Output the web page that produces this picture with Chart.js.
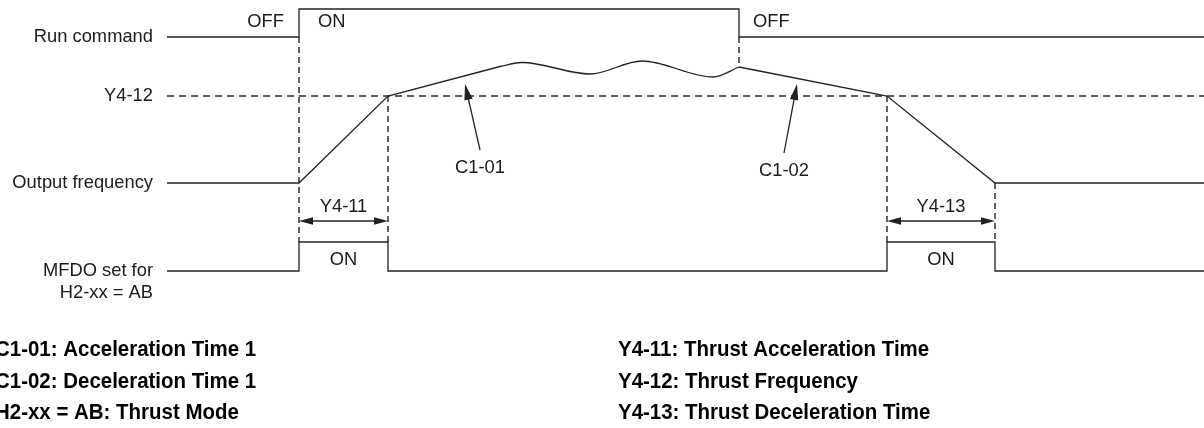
<!DOCTYPE html>
<html lang="en">
<head>
<meta charset="UTF-8">
<title>Thrust Mode Timing</title>
<script src="https://cdn.jsdelivr.net/npm/chart.js"></script>
<style>
  html, body { margin: 0; padding: 0; background: #fff; }
  #wrap { width: 1204px; height: 428px; }
</style>
</head>
<body>
<div id="wrap"><canvas id="timing" width="1204" height="428"></canvas></div>
<script>
// signal traces: time along x, level along y (y axis runs downward)
const runTime   = [167, 299, 299, 739, 739, 1204];
const runLevel  = [37, 37, 9, 9, 37, 37];

const accelTime  = [167, 299, 388, 500];
const accelLevel = [183, 183, 96, 66.5];
// frequency ripple while running: turning points only
const waveTime   = [500, 522, 590, 642, 713, 739];
const waveLevel  = [66.5, 62.5, 74, 61, 77, 67];
const decelTime  = [739, 887, 995, 1204];
const decelLevel = [67, 96, 183, 183];

const mfdoTime  = [167, 299, 299, 388, 388, 887, 887, 995, 995, 1204];
const mfdoLevel = [271, 271, 242, 242, 271, 271, 242, 242, 271, 271];

// Y4-12 reference level and the dashed time guides
const thrustLevel = 96;
const guideTime = [299, 388, 739, 887, 995];
const guideFrom = [37, 96, 37, 96, 183];
const guideTo   = [242, 242, 67, 242, 242];

// dimension arrows for the thrust times
const spanLabels = ['Y4-11', 'Y4-13'];
const spanStart  = [299, 887];
const spanEnd    = [388, 995];

// leader arrows for the ramp parameters
const leaderLabels = ['C1-01', 'C1-02'];
const leaderTail   = [[480, 150], [784, 153]];
const leaderTip    = [[465, 84], [797, 84]];

const signalNames = ['Run command', 'Y4-12', 'Output frequency', 'MFDO set for', 'H2-xx = AB'];
const notesLeft  = ['C1-01: Acceleration Time 1', 'C1-02: Deceleration Time 1', 'H2-xx = AB: Thrust Mode'];
const notesRight = ['Y4-11: Thrust Acceleration Time', 'Y4-12: Thrust Frequency', 'Y4-13: Thrust Deceleration Time'];

const ink = '#222';

function pts(xs, ys) {
  return xs.map((x, i) => ({ x: x, y: ys[i] }));
}

// vertical guides as one dataset broken by gaps
const guidePts = [];
guideTime.forEach((t, i) => {
  guidePts.push({ x: t, y: guideFrom[i] }, { x: t, y: guideTo[i] }, { x: t, y: null });
});

function trace(data, extra) {
  return Object.assign({
    data: data, showLine: true, borderColor: ink, borderWidth: 1.3,
    pointRadius: 0, tension: 0, clip: false, spanGaps: false
  }, extra || {});
}

function text(ctx, s, x, y, opts) {
  ctx.save();
  ctx.font = opts.font;
  ctx.fillStyle = opts.color || '#1a1a1a';
  ctx.textAlign = opts.align || 'left';
  ctx.textBaseline = 'middle';
  ctx.translate(x, y);
  ctx.scale(opts.sx || 1, 1);
  ctx.fillText(s, 0, 0);
  ctx.restore();
}

function arrowHead(ctx, x0, y0, x1, y1, len, half) {
  const a = Math.atan2(y1 - y0, x1 - x0);
  ctx.beginPath();
  ctx.moveTo(x1, y1);
  ctx.lineTo(x1 - len * Math.cos(a) + half * Math.sin(a), y1 - len * Math.sin(a) - half * Math.cos(a));
  ctx.lineTo(x1 - len * Math.cos(a) - half * Math.sin(a), y1 - len * Math.sin(a) + half * Math.cos(a));
  ctx.closePath();
  ctx.fill();
}

const annotations = {
  id: 'annotations',
  afterDatasetsDraw(chart) {
    const ctx = chart.ctx;
    const X = v => chart.scales.x.getPixelForValue(v);
    const Y = v => chart.scales.y.getPixelForValue(v);
    const reg = { font: '19px "Liberation Sans", Arial, sans-serif', sx: 0.965 };
    const bold = { font: 'bold 22px "Liberation Sans", Arial, sans-serif', sx: 0.93, color: '#000' };

    // signal names on the left
    const nameLevels = [runLevel[0], thrustLevel, accelLevel[0], mfdoLevel[0], mfdoLevel[0] + 22];
    signalNames.forEach((s, i) => text(ctx, s, X(153), Y(nameLevels[i]), Object.assign({ align: 'right' }, reg)));

    // run command states
    text(ctx, 'OFF', X(284), Y(22), Object.assign({ align: 'right' }, reg));
    text(ctx, 'ON', X(318), Y(22), reg);
    text(ctx, 'OFF', X(753), Y(22), reg);

    // thrust time spans
    ctx.save();
    ctx.strokeStyle = ink;
    ctx.fillStyle = ink;
    ctx.lineWidth = 1.3;
    spanLabels.forEach((s, i) => {
      const x0 = X(spanStart[i]), x1 = X(spanEnd[i]), y = Y(221);
      ctx.beginPath();
      ctx.moveTo(x0 + 6, y);
      ctx.lineTo(x1 - 6, y);
      ctx.stroke();
      arrowHead(ctx, x1, y, x0, y, 14, 3.8);
      arrowHead(ctx, x0, y, x1, y, 14, 3.8);
      const mid = (spanStart[i] + spanEnd[i]) / 2;
      text(ctx, s, X(mid), Y(207), Object.assign({ align: 'center' }, reg));
      text(ctx, 'ON', X(mid), Y(260), Object.assign({ align: 'center' }, reg));
    });

    // ramp leaders
    leaderLabels.forEach((s, i) => {
      const tx = X(leaderTail[i][0]), ty = Y(leaderTail[i][1]);
      const hx = X(leaderTip[i][0]), hy = Y(leaderTip[i][1]);
      ctx.beginPath();
      ctx.moveTo(tx, ty);
      ctx.lineTo(hx + (tx - hx) * 0.15, hy + (ty - hy) * 0.15);
      ctx.stroke();
      arrowHead(ctx, tx, ty, hx, hy, 16, 4.2);
      text(ctx, s, X(leaderTail[i][0]), Y(leaderTail[i][1] + 18), Object.assign({ align: 'center' }, reg));
    });
    ctx.restore();

    // parameter notes
    notesLeft.forEach((s, i) => text(ctx, s, X(-5), Y(350 + i * 31.5), bold));
    notesRight.forEach((s, i) => text(ctx, s, X(618), Y(350 + i * 31.5), bold));
  }
};

new Chart(document.getElementById('timing'), {
  type: 'scatter',
  data: {
    datasets: [
      trace(pts(runTime, runLevel)),
      trace(pts(accelTime, accelLevel)),
      trace(pts(waveTime, waveLevel), { cubicInterpolationMode: 'monotone' }),
      trace(pts(decelTime, decelLevel)),
      trace(pts(mfdoTime, mfdoLevel)),
      trace([{ x: 167, y: thrustLevel }, { x: 1204, y: thrustLevel }],
            { borderDash: [7, 5], borderColor: '#2a2a2a', borderWidth: 1.4 }),
      trace(guidePts, { borderDash: [6, 4], borderColor: '#222', borderWidth: 1.4 })
    ]
  },
  options: {
    responsive: false,
    animation: false,
    layout: { padding: 0 },
    plugins: { legend: { display: false }, tooltip: { enabled: false } },
    scales: {
      x: { type: 'linear', min: 0, max: 1204, display: false },
      y: { type: 'linear', min: 0, max: 428, reverse: true, display: false }
    }
  },
  plugins: [annotations]
});
</script>
</body>
</html>
